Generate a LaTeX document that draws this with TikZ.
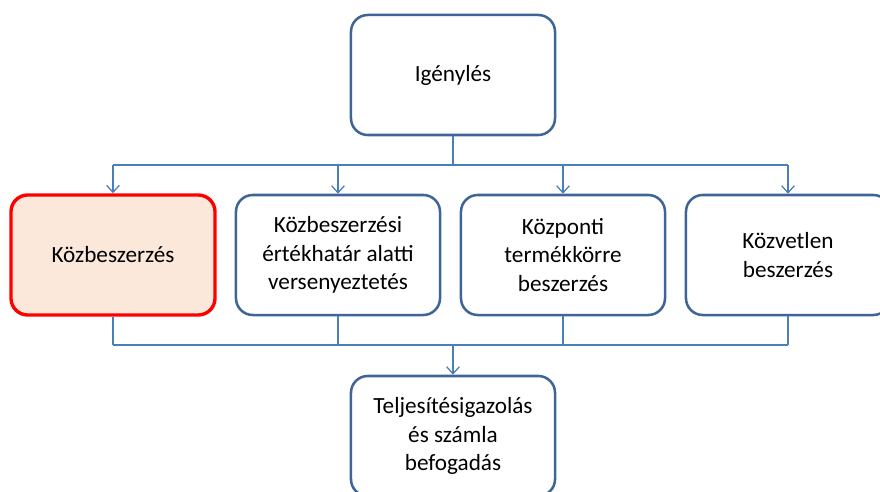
\documentclass[tikz,border=0pt]{standalone}
\usepackage{fontspec}
\setmainfont{Carlito}
\usetikzlibrary{arrows.meta}
\definecolor{boxline}{HTML}{3F6597}
\definecolor{linkline}{HTML}{4A7EBB}
\definecolor{hotfill}{HTML}{FCE8DA}
\tikzset{
  stepbox/.style={draw=boxline, line width=1.8pt, rounded corners=0.42cm,
    minimum width=5.1cm, minimum height=3cm, align=center,
    font=\fontsize{16.5}{20.2}\selectfont, fill=white},
  hotbox/.style={stepbox, draw=red, line width=2.4pt, fill=hotfill},
  link/.style={draw=linkline, line width=0.9pt},
  linkarrow/.style={link, -{Straight Barb[length=5pt,width=9pt]}}
}
\begin{document}
\begin{tikzpicture}[x=0.025cm, y=-0.025cm]
			%%%%% START %%%%%
			\useasboundingbox (0, 0) rectangle (880, 492);
			
			\node[stepbox] (igeny) at (453, 75) {Igénylés};
			
			\node[hotbox] (kozb) at (113, 255) {Közbeszerzés};
			\node[stepbox] (ertek) at (338, 255) {Közbeszerzési\\értékhatár alatti\\versenyeztetés};
			\node[stepbox] (kozp) at (563, 255) {Központi\\termékkörre\\beszerzés};
			\node[stepbox] (kozv) at (788, 255) {Közvetlen\\beszerzés};
			
			\node[stepbox] (telj) at (453, 436) {Teljesítésigazolás\\és számla\\befogadás};
			
			\coordinate (felso) at (453, 165);
			\coordinate (also) at (453, 345);
			
			% upper bus
			\draw[link] (igeny.south) -- (felso);
			\draw[link] (felso -| kozb.north) -- (felso -| kozv.north);
			\foreach \b in {kozb, ertek, kozp, kozv}
				\draw[linkarrow] (felso -| \b.north) -- (\b.north);
			
			% lower bus
			\foreach \b in {kozb, ertek, kozp, kozv}
				\draw[link] (\b.south) -- (also -| \b.south);
			\draw[link] (also -| kozb.south) -- (also -| kozv.south);
			\draw[linkarrow] (also) -- (telj.north);
			
			%%%%% END %%%%%
\end{tikzpicture}
\end{document}
